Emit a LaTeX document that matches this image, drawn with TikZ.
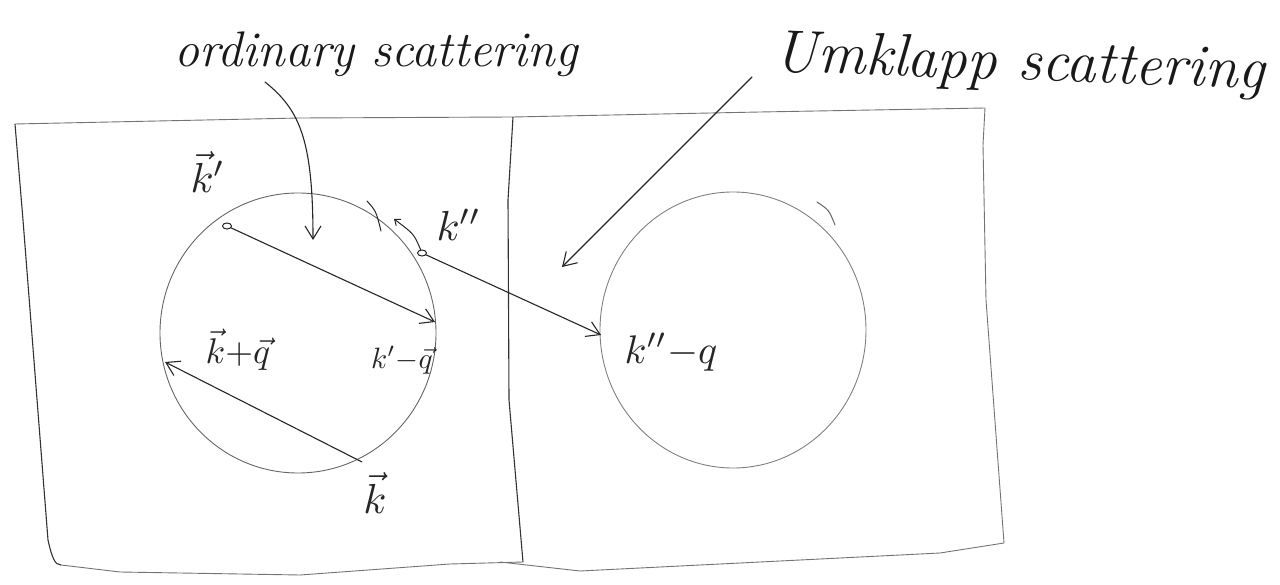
\documentclass[tikz,border=0pt]{standalone}
\usetikzlibrary{arrows.meta,calc,shapes.geometric}
\begin{document}
\begin{tikzpicture}[x=1pt,y=-1pt,
 boxline/.style={draw=black!55, line width=0.9pt, line join=round},
 sideline/.style={draw=black!80, line width=1.1pt, line join=round},
 circ/.style={draw=black!60, line width=0.9pt},
 arr/.style={draw=black!85, line width=1.1pt, line cap=round, -{Straight Barb[length=13pt,width=16pt,line width=1.1pt]}},
 thin/.style={draw=black!85, line width=1pt, line cap=round},
 pt/.style={ellipse, draw=black!85, line width=1pt, inner sep=0pt, minimum width=9pt, minimum height=6pt},
 lab/.style={inner sep=0pt, text=black!85, scale=4.2},
 title/.style={inner sep=0pt, text=black!90, font=\itshape\fontsize{50}{56}\selectfont}]
\useasboundingbox (0,0) rectangle (1280,585);
% panels
\draw[boxline] (15,124) -- (300,118) -- (513,117) -- (760,112) -- (985,108);
\draw[sideline] (15,124) -- (23,220) -- (48,540) .. controls (52,558) and (55,565) .. (61,565);
\draw[boxline] (61,565) -- (120,572) -- (300,575) -- (450,564) -- (523,562);
\draw[sideline] (513,117) -- (508,200) -- (509,400) -- (523,562);
\draw[boxline] (985,108) -- (983,145) -- (986,300) -- (1004,543);
\draw[boxline] (500,562) -- (580,571) -- (940,553) -- (1004,543);
% Brillouin-zone circles
\coordinate (C1) at (298,333);
\coordinate (C2) at (733,330);
\draw[circ] (C1) ellipse [x radius=138pt, y radius=140pt];
\draw[circ, draw=black!50] (C2) ellipse [x radius=133pt, y radius=138pt];
\draw[thin, draw=black!60] (817,202) .. controls (829,210) .. (835,225);
% titles
\node[title, anchor=base] (ord) at (376,67) {ordinary scattering};
\node[title, anchor=base, rotate=-2, font=\itshape\fontsize{60}{66}\selectfont] (umk) at (1019,80) {Umklapp scattering};
\coordinate (ordstart) at (265,82);
\coordinate (ordtip) at (313,240);
\coordinate (umkstart) at (752,77);
\coordinate (umktip) at (562,267);
\draw[arr] (ordstart) .. controls (300,110) and (313,140) .. (ordtip);
\draw[arr] (umkstart) -- (umktip);
% wave vectors
\node[pt] (kp) at (227,226) {};
\node[pt] (kpp) at (422,253) {};
\coordinate (kpq) at (435,322);
\coordinate (kq) at (165,362);
\coordinate (k) at (362,462);
\coordinate (kppq) at (601,335);
\coordinate (ktop) at (394,219);
\draw[arr] (kp) -- (kpq);
\draw[arr] (k) -- (kq);
\draw[arr] (kpp) -- (kppq);
\draw[thin, -{Straight Barb[length=5pt,width=8pt]}] (kpp) .. controls (414,234) .. (ktop);
\draw[thin] (367,201) .. controls (376,211) .. (381,231);
% labels
\node[lab] (Lkp) at (208,172) {$\vec{k}'$};
\node[lab] (Lkpp) at (459,225) {$k''$};
\node[lab, scale=0.7] (Lkpq) at (402,360) {$k'{-}\vec{q}$};
\node[lab, scale=0.85] (Lkq) at (238,350) {$\vec{k}{+}\vec{q}$};
\node[lab] (Lk) at (375,493) {$\vec{k}$};
\node[lab, scale=0.95] (Lkppq) at (671,352) {$k''{-}q$};
\end{tikzpicture}
\end{document}
